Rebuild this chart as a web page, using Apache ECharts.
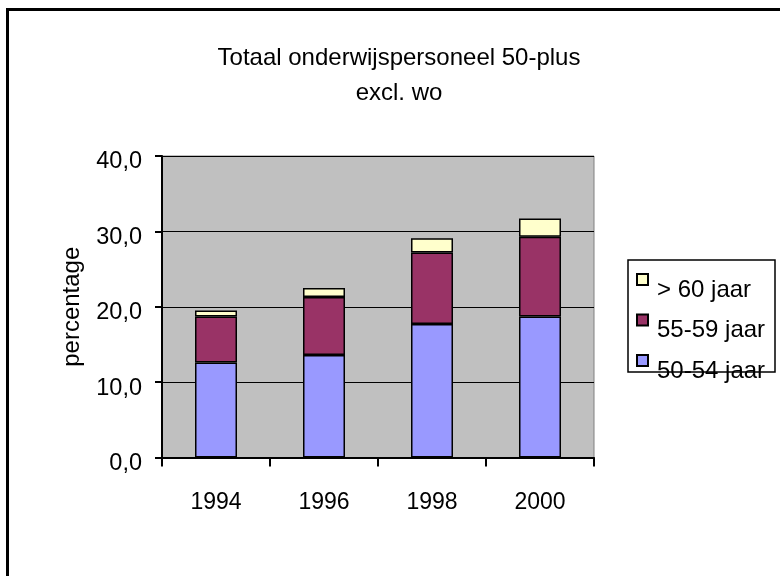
<!DOCTYPE html>
<html>
<head>
<meta charset="utf-8">
<script src="https://cdn.jsdelivr.net/npm/echarts@6/dist/echarts.min.js"></script>
<style>
html,body{margin:0;padding:0;background:#fff;}
#chart{width:780px;height:576px;}
</style>
</head>
<body>
<div id="chart"></div>
<script>
var categories = ['1994', '1996', '1998', '2000'];
var s5054 = [12.6, 13.6, 17.7, 18.7];
var s5559 = [6.1, 7.7, 9.5, 10.6];
var s60 = [0.8, 1.2, 1.9, 2.4];
var seriesNames = ['50-54 jaar', '55-59 jaar', '> 60 jaar'];
var yTickLabels = ['0,0', '10,0', '20,0', '30,0', '40,0'];

var FONT = 'Liberation Sans, Arial, sans-serif';
var chart = echarts.init(document.getElementById('chart'), null, {renderer: 'canvas'});

var barStyle = function (color) {
  return {color: color, borderColor: '#000', borderWidth: 1.5};
};

chart.setOption({
  animation: false,
  backgroundColor: '#fff',
  title: {
    text: 'Totaal onderwijspersoneel 50-plus\nexcl. wo',
    left: 394,
    top: 36,
    textAlign: 'center',
    textStyle: {fontFamily: FONT, fontSize: 24, fontWeight: 'normal', color: '#000', lineHeight: 35}
  },
  graphic: [
    {type: 'line', shape: {x1: 6, y1: 9.5, x2: 780, y2: 9.5}, style: {stroke: '#000', lineWidth: 3}},
    {type: 'line', shape: {x1: 7.5, y1: 8, x2: 7.5, y2: 576}, style: {stroke: '#000', lineWidth: 3}},
    {type: 'rect', z: -1, shape: {x: 628, y: 260, width: 147, height: 112}, style: {fill: '#fff', stroke: '#000', lineWidth: 1.5}}
  ],
  legend: {
    orient: 'vertical',
    left: 636,
    top: 257,
    padding: 0,
    itemGap: -4.5,
    itemWidth: 11,
    itemHeight: 11,
    icon: 'rect',
    data: ['> 60 jaar', '55-59 jaar', '50-54 jaar'],
    formatter: function (n) { return '\n' + n; },
    textStyle: {fontFamily: FONT, fontSize: 24, color: '#000', lineHeight: 21, padding: [0, 0, 0, 4]}
  },
  grid: {
    left: 162, right: 186, top: 156, bottom: 118.5,
    show: true, backgroundColor: '#C0C0C0', borderColor: '#808080', borderWidth: 1
  },
  xAxis: {
    type: 'category',
    data: categories,
    axisLine: {lineStyle: {color: '#000', width: 2}},
    axisTick: {show: true, length: 9, lineStyle: {color: '#000', width: 2}, alignWithLabel: false, interval: 0},
    axisLabel: {fontFamily: FONT, fontSize: 23, color: '#000', margin: 34}
  },
  yAxis: {
    type: 'value',
    min: 0, max: 40, interval: 10,
    name: 'percentage',
    nameLocation: 'middle',
    nameRotate: 90,
    nameGap: 78,
    nameTextStyle: {fontFamily: FONT, fontSize: 24, color: '#000'},
    axisLine: {show: true, lineStyle: {color: '#000', width: 2}},
    axisTick: {show: true, length: 7, lineStyle: {color: '#000', width: 2}},
    splitLine: {show: true, lineStyle: {color: '#000', width: 1}},
    axisLabel: {
      fontFamily: FONT, fontSize: 23.5, color: '#000', margin: 20, lineHeight: 12,
      formatter: function (v) { return '\n' + yTickLabels[Math.round(v / 10)]; }
    }
  },
  series: [
    {name: seriesNames[0], type: 'bar', stack: 't', data: s5054, barWidth: 42, itemStyle: barStyle('#9999FF')},
    {name: seriesNames[1], type: 'bar', stack: 't', data: s5559, barWidth: 42, itemStyle: barStyle('#993366')},
    {name: seriesNames[2], type: 'bar', stack: 't', data: s60, barWidth: 42, itemStyle: barStyle('#FFFFCC')}
  ]
});
</script>
</body>
</html>
